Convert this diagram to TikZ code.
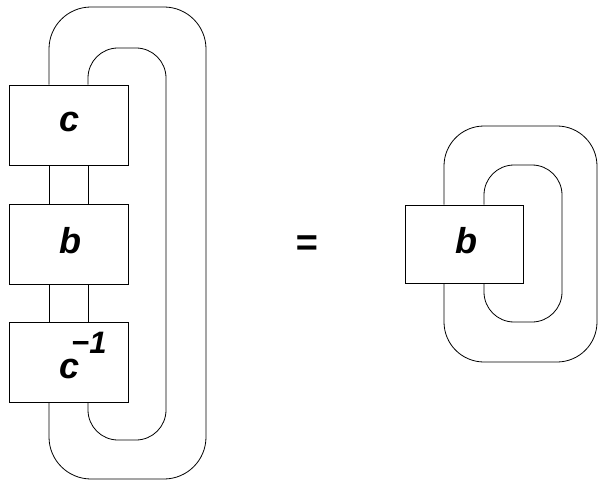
\documentclass[tikz,border=0pt]{standalone}
\usepackage{fontspec}
\setmainfont{Liberation Sans}
\begin{document}
\begin{tikzpicture}[x=1pt,y=-1pt,
  lbl/.style={font=\fontsize{36}{36}\selectfont\bfseries\itshape},
  box/.style={draw, line width=0.8pt, minimum width=119pt, minimum height=80pt, inner sep=0pt, text depth=0pt, lbl},
  strand/.style={line width=0.8pt}]
\useasboundingbox (0,0) rectangle (602,481);
% left diagram
\node[box, text height=14pt] (c) at (68.5,125) {\kern3pt c};
\node[box, text height=18pt] (b) at (68.5,244) {\kern4pt b};
\node[box, text height=31pt] (ci) at (68.5,362.5) {\kern3pt c};
\node[font=\fontsize{31}{31}\selectfont\bfseries\itshape, anchor=base west, inner sep=0pt] (ce) at (71,353) {−1};
\draw[strand] ([xshift=-19.5pt]c.south) -- ([xshift=-19.5pt]b.north);
\draw[strand] ([xshift=19.5pt]c.south) -- ([xshift=19.5pt]b.north);
\draw[strand] ([xshift=-19.5pt]b.south) -- ([xshift=-19.5pt]ci.north);
\draw[strand] ([xshift=19.5pt]b.south) -- ([xshift=19.5pt]ci.north);
\draw[strand, rounded corners=42pt] ([xshift=-19.5pt]c.north) -- (49,7) -- (206,7) -- (206,479) -- (49,479) -- ([xshift=-19.5pt]ci.south);
\draw[strand, rounded corners=30pt] ([xshift=19.5pt]c.north) -- (88,48) -- (166,48) -- (166,440) -- (88,440) -- ([xshift=19.5pt]ci.south);
% equals
\node[lbl, font=\fontsize{38}{38}\selectfont\bfseries\itshape] (eq) at (307,246) {=};
% right diagram
\node[box, minimum width=118pt, minimum height=78pt, text height=18pt] (B) at (464,244) {\kern4pt b};
\draw[strand, rounded corners=40pt] ([xshift=-20pt]B.north) -- (444,126) -- (597,126) -- (597,362) -- (444,362) -- ([xshift=-20pt]B.south);
\draw[strand, rounded corners=30pt] ([xshift=20pt]B.north) -- (484,165) -- (562,165) -- (562,322) -- (484,322) -- ([xshift=20pt]B.south);
\end{tikzpicture}
\end{document}
